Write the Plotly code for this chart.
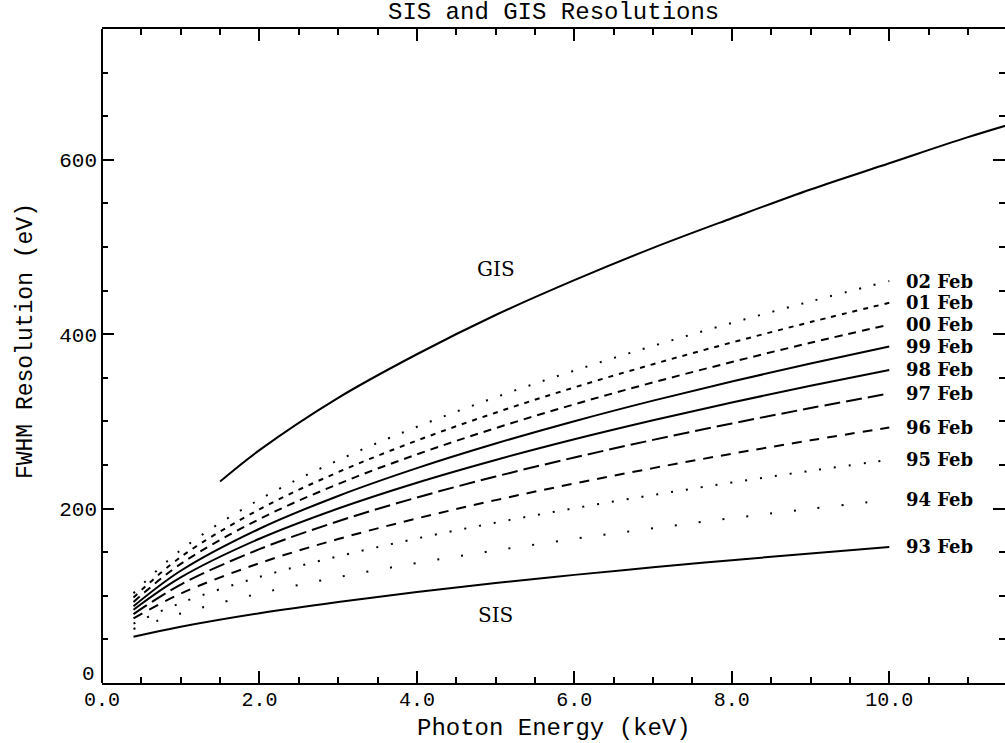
import plotly.graph_objects as go

# ---------------- data ----------------
energy_sis = [0.4, 1, 2, 3, 4, 5, 6, 7, 8, 9, 10]

fwhm_93feb = [53, 64.5, 80.0, 92.9, 104.3, 114.6, 124.0, 132.7, 140.9, 148.6, 156]
fwhm_94feb = [62, 79.7, 102.7, 121.4, 137.6, 152.1, 165.3, 177.5, 189.0, 199.8, 210]
fwhm_95feb = [68, 91.8, 121.6, 145.3, 165.7, 183.9, 200.4, 215.6, 229.9, 243.3, 256]
fwhm_96feb = [74, 102.5, 137.4, 165.1, 188.7, 209.7, 228.8, 246.4, 262.9, 278.3, 293]
fwhm_97feb = [79, 112.9, 153.5, 185.5, 212.7, 236.8, 258.6, 278.8, 297.6, 315.3, 332]
fwhm_98feb = [84, 121.1, 165.4, 200.1, 229.7, 255.8, 279.5, 301.3, 321.7, 340.9, 359]
fwhm_99feb = [88, 128.7, 176.9, 214.5, 246.4, 274.6, 300.2, 323.8, 345.8, 366.4, 386]
fwhm_00feb = [93, 136.6, 188.0, 228.2, 262.2, 292.3, 319.6, 344.7, 368.1, 390.2, 411]
fwhm_01feb = [98, 144.5, 199.2, 241.8, 278.0, 310.0, 339.0, 365.6, 390.5, 413.9, 436]
fwhm_02feb = [103, 152.4, 210.4, 255.5, 293.8, 327.7, 358.3, 386.6, 412.9, 437.6, 461]

energy_gis = [1.5, 2, 3, 4, 5, 6, 7, 8, 9, 10, 11, 12]
fwhm_gis = [231, 267, 327, 377, 422, 462, 499, 533, 566, 596, 626, 653]

sis_labels = ["93 Feb", "94 Feb", "95 Feb", "96 Feb", "97 Feb",
              "98 Feb", "99 Feb", "00 Feb", "01 Feb", "02 Feb"]
sis_series = [fwhm_93feb, fwhm_94feb, fwhm_95feb, fwhm_96feb, fwhm_97feb,
              fwhm_98feb, fwhm_99feb, fwhm_00feb, fwhm_01feb, fwhm_02feb]
sis_dashes = ["solid", "2px,22px", "2px,13px", "10px,8px", "16px,6px",
              "solid", "solid", "8px,6px", "5px,6px", "2px,13px"]

x_ticks = [0, 2, 4, 6, 8, 10]
y_ticks = [0, 200, 400, 600]

MONO = "Liberation Mono, DejaVu Sans Mono, monospace"
SERIF = "DejaVu Serif, Liberation Serif, serif"

fig = go.Figure()

for name, ys, dash in zip(sis_labels, sis_series, sis_dashes):
    fig.add_trace(go.Scatter(
        x=energy_sis, y=ys, mode="lines", name=name,
        line=dict(color="black", width=2, dash=dash, shape="spline"),
        showlegend=False, hoverinfo="skip"))

fig.add_trace(go.Scatter(
    x=energy_gis, y=fwhm_gis, mode="lines", name="GIS",
    line=dict(color="black", width=2, shape="spline"),
    showlegend=False, hoverinfo="skip"))

annotations = []
for name, ys in zip(sis_labels, sis_series):
    annotations.append(dict(
        x=10.2, y=ys[-1], xref="x", yref="y", text=name, showarrow=False,
        xanchor="left", yanchor="middle", borderpad=0,
        font=dict(family=SERIF, size=18, color="black", weight="bold")))

# the "0" label of the y axis sits just above the corner, clear of "0.0"
annotations.append(dict(
    x=0, y=y_ticks[0], xref="paper", yref="y", text=str(y_ticks[0]), showarrow=False,
    xanchor="right", yanchor="bottom", xshift=-6, yshift=-4, borderpad=0,
    font=dict(family=MONO, size=21, color="black")))

annotations += [
    dict(x=5.0, y=475, xref="x", yref="y", text="GIS", showarrow=False,
         xanchor="center", yanchor="middle",
         font=dict(family=SERIF, size=20, color="black")),
    dict(x=5.0, y=78, xref="x", yref="y", text="SIS", showarrow=False,
         xanchor="center", yanchor="middle",
         font=dict(family=SERIF, size=20, color="black")),
    dict(x=0.5, y=1.025, xref="paper", yref="paper", text="SIS and GIS Resolutions",
         showarrow=False, xanchor="center", yanchor="middle",
         font=dict(family=MONO, size=24, color="black")),
    dict(x=0.5, y=-0.069, xref="paper", yref="paper", text="Photon Energy (keV)",
         showarrow=False, xanchor="center", yanchor="middle",
         font=dict(family=MONO, size=24, color="black")),
    dict(x=-0.084, y=0.523, xref="paper", yref="paper", text="FWHM Resolution (eV)",
         showarrow=False, xanchor="center", yanchor="middle", textangle=-90,
         font=dict(family=MONO, size=23, color="black")),
]

fig.update_layout(
    width=1005, height=743,
    margin=dict(l=102, r=0, t=29, b=60),
    paper_bgcolor="white", plot_bgcolor="white",
    annotations=annotations,
    shapes=[dict(type="line", xref="paper", yref="paper", x0=0, x1=0, y0=0, y1=1,
                 line=dict(color="black", width=2))],
)

fig.update_xaxes(
    range=[0, 11.47], tickmode="array", tickvals=x_ticks,
    ticktext=[f"{v:.1f}" for v in x_ticks],
    ticks="inside", ticklen=12, tickwidth=1.5, tickcolor="black",
    minor=dict(dtick=0.5, tick0=0, ticks="inside", ticklen=6, tickwidth=1.5, tickcolor="black"),
    showline=True, linewidth=2, linecolor="black", mirror="ticks",
    showgrid=False, zeroline=False, ticklabelstandoff=-3,
    tickfont=dict(family=MONO, size=20, color="black"),
)
fig.update_yaxes(
    range=[0, 750], tickmode="array", tickvals=y_ticks,
    ticktext=[""] + [str(v) for v in y_ticks[1:]],
    ticks="inside", ticklen=12, tickwidth=1.5, tickcolor="black",
    minor=dict(dtick=50, tick0=0, ticks="inside", ticklen=6, tickwidth=1.5, tickcolor="black"),
    showline=False, mirror="ticks",
    showgrid=False, zeroline=False, ticklabelstandoff=4,
    tickfont=dict(family=MONO, size=21, color="black"),
)

fig.write_html("out.html")
